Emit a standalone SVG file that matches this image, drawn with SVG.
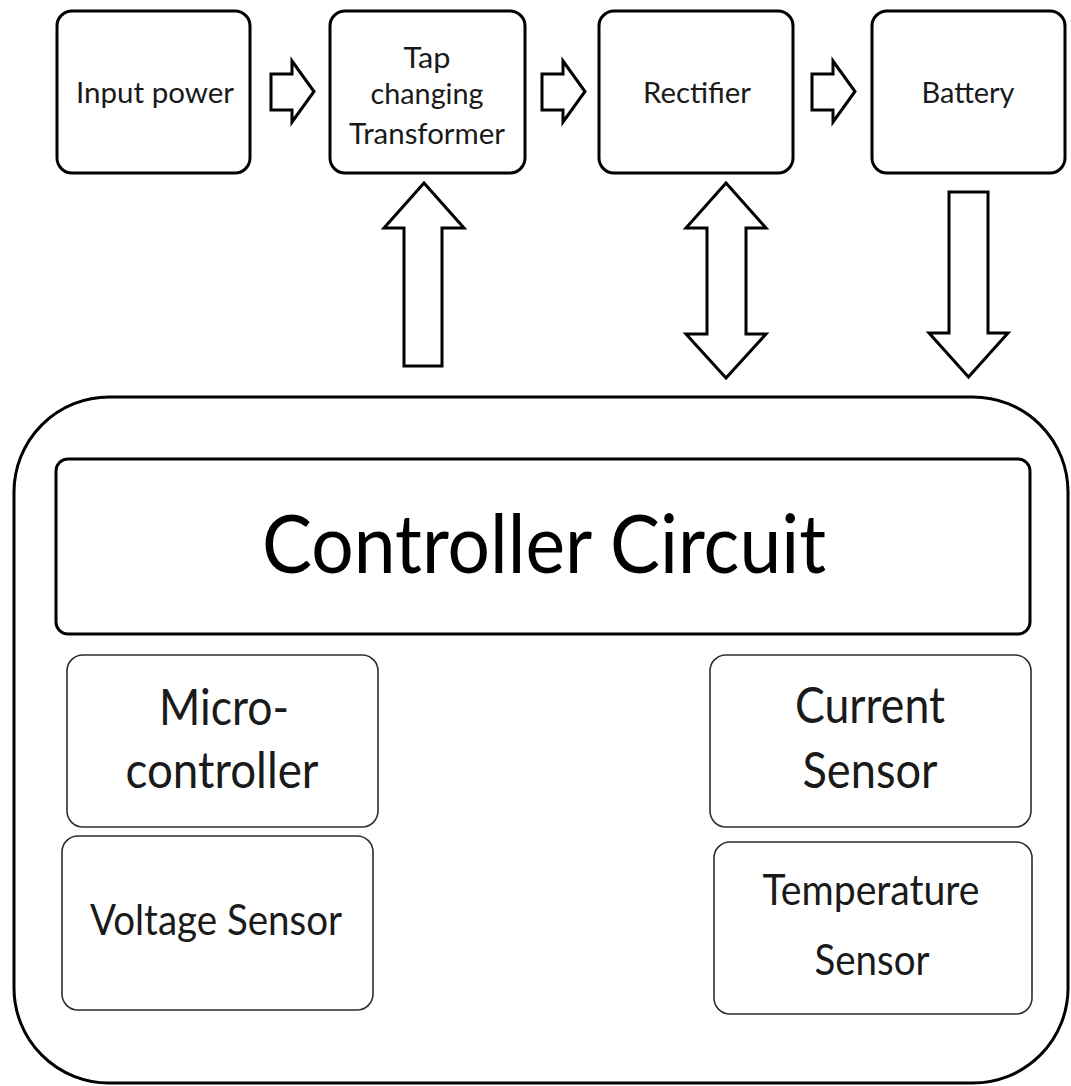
<svg xmlns="http://www.w3.org/2000/svg" width="1071" height="1086" viewBox="0 0 1071 1086">
  <style>
    .bg { fill: #ffffff; }
    .box { fill: #ffffff; stroke: #000000; stroke-width: 3; }
    .sub { fill: #ffffff; stroke: #2e2e2e; stroke-width: 1.6; }
    .arrow { fill: #ffffff; stroke: #000000; stroke-width: 3; stroke-linejoin: miter; }
    text { font-family: Lato, "Open Sans", "Liberation Sans", sans-serif; fill: #1a1a1a; text-anchor: middle; }
    .t1 { font-size: 29px; }
    .t2 { font-size: 82px; fill: #000; }
    .t3 { font-size: 50px; }
    .t4 { font-size: 42px; }
  </style>
  <rect class="bg" x="0" y="0" width="1071" height="1086"/>

  <g id="controller-container">
    <rect class="box" x="14" y="397" width="1054" height="686" rx="95" ry="95"/>
  </g>

  <g id="input-power">
    <rect class="box" x="57" y="11" width="193" height="162" rx="15" ry="15"/>
    <text class="t1" x="155" y="103" textLength="158" lengthAdjust="spacingAndGlyphs">Input power</text>
  </g>

  <g id="tap-changing-transformer">
    <rect class="box" x="330" y="11" width="195" height="162" rx="15" ry="15"/>
    <text class="t1" x="427" y="68" textLength="47" lengthAdjust="spacingAndGlyphs">Tap</text>
    <text class="t1" x="427" y="104" textLength="113" lengthAdjust="spacingAndGlyphs">changing</text>
    <text class="t1" x="427" y="144" textLength="156" lengthAdjust="spacingAndGlyphs">Transformer</text>
  </g>

  <g id="rectifier">
    <rect class="box" x="599" y="11" width="194" height="162" rx="15" ry="15"/>
    <text class="t1" x="697" y="103" textLength="108" lengthAdjust="spacingAndGlyphs">Rectifier</text>
  </g>

  <g id="battery">
    <rect class="box" x="872" y="11" width="193" height="162" rx="15" ry="15"/>
    <text class="t1" x="968" y="103" textLength="93" lengthAdjust="spacingAndGlyphs">Battery</text>
  </g>

  <g id="controller-circuit">
    <rect class="box" x="56" y="459" width="974" height="175" rx="12" ry="12"/>
    <text class="t2" x="544" y="573" textLength="564" lengthAdjust="spacingAndGlyphs">Controller Circuit</text>
  </g>

  <g id="microcontroller">
    <rect class="sub" x="67" y="655" width="311" height="172" rx="16" ry="16"/>
    <text class="t3" x="224" y="725" textLength="130" lengthAdjust="spacingAndGlyphs">Micro-</text>
    <text class="t3" x="222" y="788" textLength="193" lengthAdjust="spacingAndGlyphs">controller</text>
  </g>

  <g id="voltage-sensor">
    <rect class="sub" x="62" y="836" width="311" height="174" rx="16" ry="16"/>
    <text class="t4" x="216" y="935" textLength="252" lengthAdjust="spacingAndGlyphs">Voltage Sensor</text>
  </g>

  <g id="current-sensor">
    <rect class="sub" x="710" y="655" width="321" height="172" rx="16" ry="16"/>
    <text class="t3" x="870" y="723" textLength="150" lengthAdjust="spacingAndGlyphs">Current</text>
    <text class="t3" x="870" y="788" textLength="135" lengthAdjust="spacingAndGlyphs">Sensor</text>
  </g>

  <g id="temperature-sensor">
    <rect class="sub" x="714" y="842" width="318" height="172" rx="16" ry="16"/>
    <text class="t4" x="871" y="905" textLength="217" lengthAdjust="spacingAndGlyphs">Temperature</text>
    <text class="t4" x="872" y="975" textLength="115" lengthAdjust="spacingAndGlyphs">Sensor</text>
  </g>

  <g id="connectors">
    <polygon class="arrow" points="271,74 292,74 292,61 314,91.5 292,122 292,110 271,110"/>
    <polygon class="arrow" points="542,74 563,74 563,61 585,91.5 563,122 563,110 542,110"/>
    <polygon class="arrow" points="812,74 833,74 833,61 855,91.5 833,122 833,110 812,110"/>
    <polygon class="arrow" points="424,183 464,228 442,228 442,366 404,366 404,228 384,228"/>
    <polygon class="arrow" points="726,183 766,228 746,228 746,334 766,334 726,378 686,334 707,334 707,228 686,228"/>
    <polygon class="arrow" points="949,192 988,192 988,333 1008,333 968.5,377 929,333 949,333"/>
  </g>
</svg>
